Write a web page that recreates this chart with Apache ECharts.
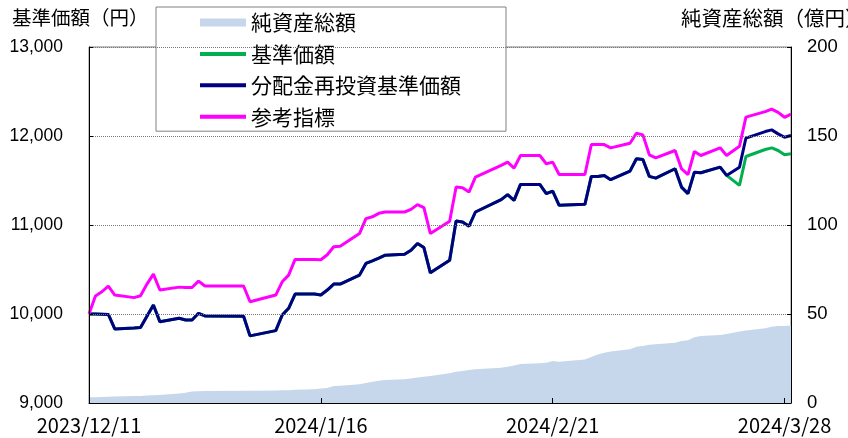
<!DOCTYPE html>
<html>
<head>
<meta charset="utf-8">
<script src="https://cdn.jsdelivr.net/npm/echarts@6/dist/echarts.min.js"></script>
<style>
  html, body { margin: 0; padding: 0; background: #fff; }
  #myChart { width: 848px; height: 438px; }
</style>
</head>
<body>
<div id="myChart"></div>
<script>
  // 日付（営業日）
  var dates = [
    '2023-12-11','2023-12-12','2023-12-13','2023-12-14','2023-12-15',
    '2023-12-18','2023-12-19','2023-12-20','2023-12-21','2023-12-22',
    '2023-12-25','2023-12-26','2023-12-27','2023-12-28','2023-12-29',
    '2024-01-04','2024-01-05',
    '2024-01-09','2024-01-10','2024-01-11','2024-01-12',
    '2024-01-15','2024-01-16','2024-01-17','2024-01-18','2024-01-19',
    '2024-01-22','2024-01-23','2024-01-24','2024-01-25','2024-01-26',
    '2024-01-29','2024-01-30','2024-01-31','2024-02-01','2024-02-02',
    '2024-02-05','2024-02-06','2024-02-07','2024-02-08','2024-02-09',
    '2024-02-13','2024-02-14','2024-02-15','2024-02-16',
    '2024-02-19','2024-02-20','2024-02-21','2024-02-22',
    '2024-02-26','2024-02-27','2024-02-28','2024-02-29','2024-03-01',
    '2024-03-04','2024-03-05','2024-03-06','2024-03-07','2024-03-08',
    '2024-03-11','2024-03-12','2024-03-13','2024-03-14','2024-03-15',
    '2024-03-18','2024-03-19','2024-03-21','2024-03-22',
    '2024-03-25','2024-03-26','2024-03-27','2024-03-28','2024-03-29'
  ];

  // 分配金再投資基準価額
  var reinvestValues = [
    10000, 10000, 9998, 9995, 9832,
    9843, 9849, 9975, 10101, 9914,
    9952, 9933, 9933, 10008, 9978,
    9974, 9754,
    9813, 9989, 10064, 10224,
    10224, 10213, 10269, 10336, 10336,
    10437, 10568, 10597, 10627, 10661,
    10672, 10717, 10792, 10747, 10463,
    10605, 11045, 11034, 10986, 11146,
    11285, 11341, 11277, 11456,
    11456, 11352, 11381, 11221,
    11232, 11546, 11546, 11557, 11509,
    11605, 11744, 11736, 11546, 11527,
    11632, 11426, 11352, 11594, 11587,
    11650, 11557, 11650, 11977,
    12050, 12069, 12024, 11986, 12005
  ];

  // 基準価額
  var navValues = [
    10000, 10000, 9998, 9995, 9832,
    9843, 9849, 9975, 10101, 9914,
    9952, 9933, 9933, 10008, 9978,
    9974, 9754,
    9813, 9989, 10064, 10224,
    10224, 10213, 10269, 10336, 10336,
    10437, 10568, 10597, 10627, 10661,
    10672, 10717, 10792, 10747, 10463,
    10605, 11045, 11034, 10986, 11146,
    11285, 11341, 11277, 11456,
    11456, 11352, 11381, 11221,
    11232, 11546, 11546, 11557, 11509,
    11605, 11744, 11736, 11546, 11527,
    11632, 11426, 11352, 11594, 11587,
    11650, 11557, 11445, 11770,
    11848, 11867, 11837, 11789, 11800
  ];

  // 参考指標
  var benchValues = [
    10000, 10202, 10250, 10314, 10213,
    10184, 10205, 10336, 10448, 10269,
    10302, 10297, 10297, 10370, 10314,
    10314, 10138,
    10213, 10362, 10437, 10613,
    10613, 10610, 10666, 10756, 10762,
    10904, 11072, 11092, 11131, 11146,
    11146, 11176, 11229, 11195, 10904,
    11042, 11426, 11419, 11370, 11538,
    11669, 11706, 11639, 11781,
    11781, 11688, 11706, 11568,
    11568, 11904, 11904, 11904, 11867,
    11919, 12031, 12013, 11789, 11755,
    11837, 11632, 11565, 11826, 11781,
    11867, 11781, 11885, 12212,
    12274, 12302, 12266, 12210, 12246
  ];

  // 純資産総額（億円）
  var assetValues = [
    3.2, 3.3, 3.4, 3.5, 3.6,
    3.9, 4.0, 4.2, 4.3, 4.5,
    5.3, 5.7, 6.5, 6.6, 6.7,
    6.9, 6.9,
    7.0, 7.1, 7.2, 7.4,
    7.7, 8.2, 8.4, 9.5, 9.7,
    10.5, 11.2, 11.9, 12.5, 12.9,
    13.4, 13.8, 14.3, 14.7, 15.2,
    16.7, 17.5, 18.0, 18.5, 19.0,
    19.8, 20.3, 21.0, 21.9,
    22.3, 22.6, 23.6, 23.2,
    24.5, 25.8, 27.3, 28.3, 28.9,
    30.2, 31.6, 32.0, 32.7, 33.0,
    33.9, 34.8, 35.2, 37.0, 37.6,
    38.2, 38.8, 40.2, 40.8,
    42.0, 42.9, 43.2, 43.3, 43.5
  ];

  var xTickLabels = ['2023/12/11', '2024/1/16', '2024/2/21', '2024/3/28'];
  var xTickStep = 36;   // 日
  var xLastDay = 109;   // 2024/3/29

  var baseTime = Date.parse(dates[0] + 'T00:00:00Z');
  function dayOf(d) {
    return Math.round((Date.parse(d + 'T00:00:00Z') - baseTime) / 86400000);
  }
  function pairs(values) {
    return dates.map(function (d, i) { return [dayOf(d), values[i]]; });
  }

  var myChart = echarts.init(document.getElementById('myChart'));
  var numFont = 'Liberation Sans';
  var jpFont = 'Noto Sans CJK JP';

  myChart.setOption({
    animation: false,
    backgroundColor: '#fff',
    grid: {
      left: 89, right: 57, top: 47, bottom: 35,
      show: true, borderColor: '#808080', borderWidth: 1
    },
    legend: {
      orient: 'vertical',
      left: 156, top: 7,
      padding: [5, 45, 4, 42],
      backgroundColor: '#fff',
      borderColor: '#808080',
      borderWidth: 1,
      itemWidth: 46, itemHeight: 8,
      itemGap: 10.4,
      itemStyle: { opacity: 0 },
      lineStyle: { width: 4 },
      textStyle: { fontFamily: jpFont, fontSize: 21, lineHeight: 21, color: '#000' },
      data: [
        { name: '純資産総額', icon: 'rect', itemStyle: { opacity: 1 } },
        '基準価額',
        '分配金再投資基準価額',
        '参考指標'
      ]
    },
    graphic: [
      { type: 'text', left: 12, top: 8, style: { text: '基準価額（円）', font: '19.5px "Noto Sans CJK JP"', fill: '#000' } },
      { type: 'text', left: 681, top: 8, style: { text: '純資産総額（億円）', font: '20.5px "Noto Sans CJK JP"', fill: '#000' } }
    ],
    xAxis: {
      type: 'value',
      min: 0, max: xLastDay, interval: xTickStep,
      z: 10,
      axisLine: { lineStyle: { color: '#000', width: 1 } },
      axisTick: { inside: true, length: 5, lineStyle: { color: '#000' } },
      splitLine: { show: false },
      axisLabel: {
        showMaxLabel: false,
        margin: 12,
        fontFamily: jpFont, fontSize: 20, color: '#000',
        formatter: function (v) {
          var k = Math.round(v / xTickStep);
          return k * xTickStep === v ? (xTickLabels[k] || '') : '';
        }
      }
    },
    yAxis: [
      {
        type: 'value', min: 9000, max: 13000, interval: 1000,
        z: 10,
        axisLine: { show: true, lineStyle: { color: '#000' } },
        axisTick: { show: true, inside: true, length: 4, lineStyle: { color: '#000' } },
        splitLine: { lineStyle: { type: 'dotted', color: '#777', width: 1 } },
        axisLabel: {
          margin: 26, fontFamily: numFont, fontSize: 17.5, color: '#000',
          formatter: function (v) { return v.toString().replace(/\B(?=(\d{3})+(?!\d))/g, ','); }
        }
      },
      {
        type: 'value', min: 0, max: 200, interval: 50,
        z: 10,
        axisLine: { show: true, lineStyle: { color: '#000' } },
        axisTick: { show: true, inside: true, length: 4, lineStyle: { color: '#000' } },
        splitLine: { show: false },
        axisLabel: { margin: 16, fontFamily: numFont, fontSize: 18.5, color: '#000' }
      }
    ],
    series: [
      {
        name: '純資産総額', type: 'line', yAxisIndex: 1,
        symbol: 'none',
        itemStyle: { color: '#c6d6eb' },
        lineStyle: { width: 0 },
        areaStyle: { color: '#c6d6eb', opacity: 1 },
        data: pairs(assetValues)
      },
      {
        name: '基準価額', type: 'line', symbol: 'none',
        itemStyle: { color: '#00b050' },
        lineStyle: { color: '#00b050', width: 3 },
        data: pairs(navValues)
      },
      {
        name: '分配金再投資基準価額', type: 'line', symbol: 'none',
        itemStyle: { color: '#000080' },
        lineStyle: { color: '#000080', width: 3 },
        data: pairs(reinvestValues)
      },
      {
        name: '参考指標', type: 'line', symbol: 'none',
        itemStyle: { color: '#ff00ff' },
        lineStyle: { color: '#ff00ff', width: 3 },
        data: pairs(benchValues)
      }
    ]
  });
</script>
</body>
</html>
